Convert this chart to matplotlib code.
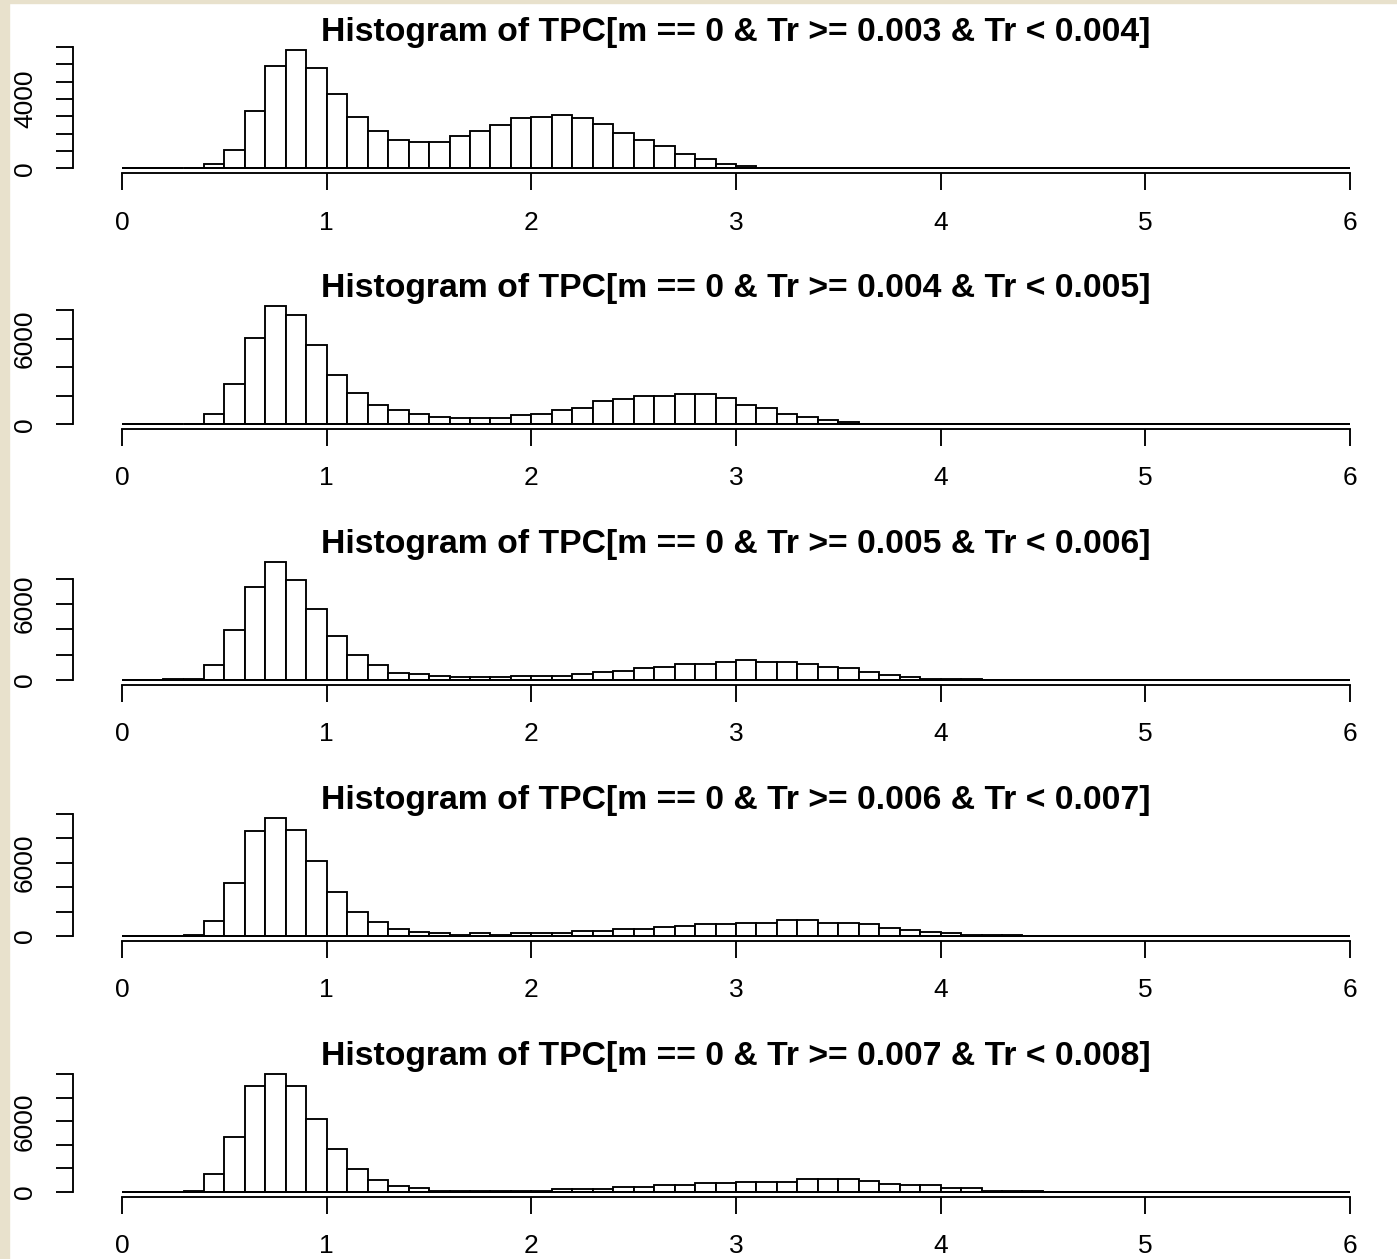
import numpy as np
import matplotlib
matplotlib.use('Agg')
import matplotlib.pyplot as plt
from matplotlib.patches import Rectangle

plt.rcParams['font.family'] = ['Liberation Sans', 'DejaVu Sans']

titles = [
    'Histogram of TPC[m == 0 & Tr >= 0.003 & Tr < 0.004]',
    'Histogram of TPC[m == 0 & Tr >= 0.004 & Tr < 0.005]',
    'Histogram of TPC[m == 0 & Tr >= 0.005 & Tr < 0.006]',
    'Histogram of TPC[m == 0 & Tr >= 0.006 & Tr < 0.007]',
    'Histogram of TPC[m == 0 & Tr >= 0.007 & Tr < 0.008]',
]

# histogram breaks run 0..6 in steps of 0.1; counts start at the first non-empty bin
bin_width = 0.1
n_bins = 60
first_bin = [0.4, 0.4, 0.2, 0.3, 0.3]

counts_003 = [230, 1036, 3300, 5890, 6810, 5790, 4280, 2970, 2150, 1630, 1515, 1515,
              1860, 2170, 2475, 2880, 2970, 3070, 2880, 2570, 2050, 1650, 1265, 845,
              537, 250, 150]
counts_004 = [748, 2850, 6055, 8300, 7690, 5590, 3460, 2220, 1380, 980, 748, 490,
              470, 470, 470, 630, 748, 980, 1145, 1610, 1775, 1990, 1990, 2100,
              2100, 1870, 1380, 1145, 748, 540, 280, 140]
counts_005 = [50, 80, 1175, 3940, 7360, 9320, 7930, 5585, 3520, 2010, 1175, 600,
              444, 313, 235, 209, 209, 340, 340, 340, 496, 626, 757, 940, 1044,
              1305, 1305, 1435, 1620, 1435, 1410, 1305, 1044, 940, 626, 365, 235,
              100, 70, 50]
counts_006 = [110, 1270, 4350, 8570, 9670, 8705, 6115, 3640, 1990, 1130, 580, 360,
              220, 83, 250, 110, 220, 220, 220, 413, 413, 580, 580, 716, 826, 964,
              964, 1100, 1100, 1295, 1295, 1100, 1100, 964, 690, 523, 360, 250, 110,
              80, 60]
counts_007 = [110, 1510, 4640, 9025, 10050, 9025, 6180, 3645, 1990, 1050, 484, 313,
              85, 85, 85, 85, 85, 85, 285, 285, 285, 455, 455, 570, 570, 740, 740,
              883, 883, 883, 1080, 1080, 1080, 910, 712, 570, 570, 340, 340, 110, 90,
              60]
all_counts = [counts_003, counts_004, counts_005, counts_006, counts_007]

# y axis: tick step and which ticks get a label
y_steps = [1000, 2000, 2000, 2000, 2000]
y_labelled = [[0, 4000], [0, 6000], [0, 6000], [0, 6000], [0, 6000]]
x_ticks = [0, 1, 2, 3, 4, 5, 6]

W, H = 1397, 1259
fig = plt.figure(figsize=(W / 100, H / 100), dpi=100)
fig.patch.set_facecolor('white')

beige = '#E8E1CC'
fig.add_artist(Rectangle((0, 0), 9 / W, 1, transform=fig.transFigure,
                         color=beige, zorder=-5))
fig.add_artist(Rectangle((0, 1 - 3.3 / H), 1, 3.3 / H, transform=fig.transFigure,
                         color=beige, zorder=-5))

lw = 1.35
edges = np.arange(n_bins) * bin_width

for i in range(5):
    full = np.zeros(n_bins)
    k = int(round(first_bin[i] / bin_width))
    full[k:k + len(all_counts[i])] = all_counts[i]
    top = full.max()

    # panel geometry in pixels (R-style 4% padding on both axes)
    base = 168.3 + 255.9 * i
    peak_px = 118.0
    bottom_px = base + 0.04 * peak_px
    height_px = 1.08 * peak_px
    left_px, width_px = 73.0, 1326.0
    ax = fig.add_axes([left_px / W, 1 - bottom_px / H, width_px / W, height_px / H])
    ax.set_facecolor('none')

    ax.bar(edges, full, width=bin_width, align='edge', color='white',
           edgecolor='black', linewidth=lw)
    # empty bins collapse onto the zero line
    ax.hlines(0, 0, 6, color='black', linewidth=lw, zorder=3)
    ax.set_xlim(-0.24, 6.24)
    ax.set_ylim(-0.04 * top, 1.04 * top)

    for side in ['top', 'right']:
        ax.spines[side].set_visible(False)
    for side in ['left', 'bottom']:
        ax.spines[side].set_linewidth(lw)
    yt = np.arange(0, 1.04 * top + 1, y_steps[i])
    ax.spines['bottom'].set_bounds(0, 6)
    ax.spines['left'].set_bounds(0, yt[-1])

    ax.set_xticks(x_ticks)
    ax.set_xticklabels([str(t) for t in x_ticks])
    ax.set_yticks(yt)
    ax.set_yticklabels([str(int(v)) if int(v) in y_labelled[i] else '' for v in yt])

    ax.tick_params(axis='both', direction='out', length=12, width=lw,
                   labelsize=19, colors='black')
    ax.tick_params(axis='x', pad=15)
    ax.tick_params(axis='y', pad=14, labelrotation=90)
    for lab in ax.get_yticklabels():
        lab.set_va('center')

    fig.text((left_px + width_px / 2) / W, 1 - (base - 127) / H, titles[i],
             ha='center', va='baseline', fontsize=24.3, fontweight='bold')

fig.savefig('out.png', dpi=100)
